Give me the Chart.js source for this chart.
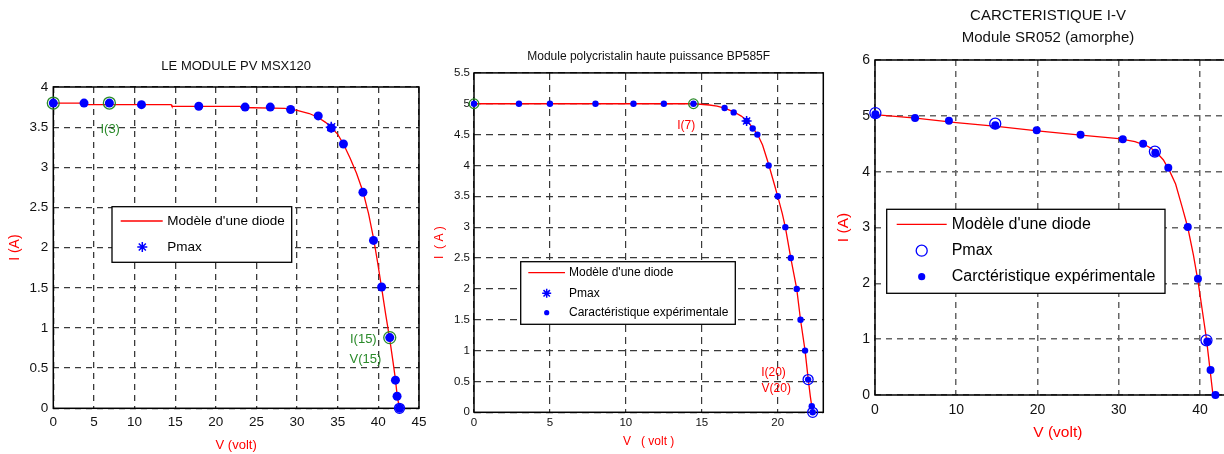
<!DOCTYPE html>
<html>
<head>
<meta charset="utf-8">
<script src="https://cdn.jsdelivr.net/npm/chart.js@4.4.1/dist/chart.umd.min.js"></script>
<style>
  html, body { margin: 0; padding: 0; background: #fff; overflow: hidden; }
  body { width: 1224px; height: 454px; position: relative; }
  canvas { position: absolute; top: 0; }
  #msx { left: 0; }
  #bp { left: 420px; }
  #sr { left: 830px; }
</style>
</head>
<body>
<canvas id="msx" width="440" height="454"></canvas>
<canvas id="bp" width="420" height="454"></canvas>
<canvas id="sr" width="440" height="454"></canvas>
<script>
// ---- MSX120 ----
const msxTitle = 'LE MODULE PV MSX120';
const msxModelV = [0, 3.9, 4.0, 14.5, 14.6, 23.0, 23.1, 28.5, 30.0, 31.5, 32.6, 33.5, 34.2, 35.0, 35.7, 36.5, 37.3, 38.1, 38.8, 39.4, 39.9, 40.4, 40.9, 41.4, 41.8, 42.1, 42.3, 42.5, 42.6];
const msxModelI = [3.8, 3.8, 3.78, 3.78, 3.76, 3.76, 3.745, 3.735, 3.71, 3.67, 3.62, 3.56, 3.5, 3.41, 3.29, 3.12, 2.93, 2.7, 2.42, 2.12, 1.82, 1.5, 1.17, 0.86, 0.58, 0.36, 0.17, 0.05, 0];
const msxExpV = [0, 3.78, 6.9, 10.85, 17.9, 23.6, 26.7, 29.2, 32.6, 34.2, 35.7, 38.1, 39.4, 40.4, 41.4, 42.1, 42.3, 42.6];
const msxExpI = [3.8, 3.8, 3.8, 3.78, 3.76, 3.75, 3.75, 3.72, 3.64, 3.49, 3.29, 2.69, 2.09, 1.51, 0.88, 0.35, 0.15, 0];
const msxPmaxV = [34.2];
const msxPmaxI = [3.5];
const msxMarkV = [0, 6.9, 41.4];
const msxMarkI = [3.8, 3.8, 0.88];
const msxEndV = [42.6];
const msxEndI = [0];
const msxNoteText = ['I(3)', 'I(15)', 'V(15)'];
const msxNoteV = [7.0, 38.15, 38.4];
const msxNoteI = [3.47, 0.86, 0.61];
const msxXTicks = [0, 5, 10, 15, 20, 25, 30, 35, 40, 45];
const msxYTicks = [0, 0.5, 1, 1.5, 2, 2.5, 3, 3.5, 4];
const msxLegend = ["Modèle d'une diode", 'Pmax'];

// ---- BP585F ----
const bpTitle = 'Module polycristalin haute puissance BP585F';
const bpModelV = [0, 14.5, 15.5, 16.0, 16.5, 17.1, 17.6, 18.0, 18.35, 18.7, 19.0, 19.4, 19.7, 20.0, 20.3, 20.5, 20.86, 21.25, 21.5, 21.8, 22.0, 22.15, 22.3];
const bpModelI = [5.0, 5.0, 4.98, 4.96, 4.93, 4.87, 4.8, 4.72, 4.61, 4.49, 4.33, 4.02, 3.76, 3.5, 3.22, 3.0, 2.5, 2.0, 1.5, 1.0, 0.55, 0.25, 0];
const bpExpV = [0, 2.96, 5.0, 8.0, 10.5, 12.5, 14.45, 16.5, 17.1, 17.95, 18.35, 18.66, 19.4, 20.0, 20.5, 20.86, 21.25, 21.5, 21.8, 22.0, 22.24, 22.3];
const bpExpI = [5.0, 5.0, 5.0, 5.0, 5.0, 5.0, 5.0, 4.93, 4.86, 4.72, 4.6, 4.5, 4.0, 3.5, 3.0, 2.5, 2.0, 1.5, 1.0, 0.53, 0.1, 0];
const bpPmaxV = [17.95];
const bpPmaxI = [4.72];
const bpMarkV = [0, 14.45];
const bpMarkI = [5.0, 5.0];
const bpEndV = [22.0, 22.3];
const bpEndI = [0.53, 0];
const bpNoteText = ['I(7)', 'I(20)', 'V(20)'];
const bpNoteV = [13.97, 19.72, 19.9];
const bpNoteI = [4.65, 0.65, 0.39];
const bpXTicks = [0, 5, 10, 15, 20];
const bpYTicks = [0, 0.5, 1, 1.5, 2, 2.5, 3, 3.5, 4, 4.5, 5, 5.5];
const bpLegend = ["Modèle d'une diode", 'Pmax', 'Caractéristique expérimentale'];

// ---- SR052 ----
const srTitle = ['CARCTERISTIQUE I-V', 'Module SR052 (amorphe)'];
const srModelV = [0, 5, 10, 15, 20, 25, 30, 32, 33.5, 34.5, 35.5, 36.3, 37.0, 37.8, 38.5, 39.2, 39.8, 40.3, 40.8, 41.2, 41.6];
const srModelI = [5.02, 4.96, 4.88, 4.81, 4.73, 4.66, 4.59, 4.54, 4.46, 4.37, 4.21, 4.0, 3.78, 3.37, 3.0, 2.5, 2.0, 1.5, 1.0, 0.5, 0];
const srExpV = [0.05, 4.93, 9.1, 14.8, 19.9, 25.3, 30.5, 33.0, 34.5, 36.1, 38.5, 39.75, 40.9, 41.3, 41.9];
const srExpI = [5.03, 4.96, 4.91, 4.83, 4.74, 4.66, 4.58, 4.5, 4.34, 4.07, 3.01, 2.08, 0.96, 0.45, 0];
const srPmaxV = [0.05, 14.8, 34.45, 40.8];
const srPmaxI = [5.05, 4.86, 4.36, 0.98];
const srXTicks = [0, 10, 20, 30, 40];
const srYTicks = [0, 1, 2, 3, 4, 5, 6];
const srLegend = ["Modèle d'une diode", 'Pmax', 'Carctéristique expérimentale'];

const RED = '#ff0000', BLUE = '#0000ff', GREEN = '#2a8a2a';

Chart.defaults.font.family = "'Liberation Sans', Arial, sans-serif";
Chart.defaults.color = '#111';

function pts(vs, is) {
  return vs.map((v, k) => ({ x: v, y: is[k] }));
}

function modelSet(vs, is) {
  return { data: pts(vs, is), showLine: true, borderColor: RED, borderWidth: 1.3,
           pointRadius: 0, tension: 0, clip: false, order: 5 };
}
function dotSet(vs, is, r) {
  return { data: pts(vs, is), showLine: false, pointStyle: 'circle', pointRadius: r,
           backgroundColor: BLUE, borderColor: BLUE, borderWidth: 0, clip: false, order: 2 };
}
function ringSet(vs, is, r, color) {
  return { data: pts(vs, is), showLine: false, pointStyle: 'circle', pointRadius: r,
           backgroundColor: 'rgba(0,0,0,0)', borderColor: color, borderWidth: 1.3, clip: false, order: 1 };
}
function starSet(vs, is, r) {
  return { data: pts(vs, is), showLine: false, pointStyle: 'star', pointRadius: r,
           borderColor: BLUE, borderWidth: 1.5, clip: false, order: 1 };
}

// black box round the plot area
const framePlugin = {
  id: 'frame',
  beforeDatasetsDraw(chart) {
    const { ctx, chartArea: a } = chart;
    ctx.save();
    ctx.strokeStyle = '#000';
    ctx.lineWidth = 1.5;
    ctx.strokeRect(a.left, a.top, a.right - a.left, a.bottom - a.top);
    ctx.restore();
  }
};

// text labels placed at data coordinates
const notesPlugin = {
  id: 'notes',
  afterDatasetsDraw(chart, args, opts) {
    if (!opts.text) return;
    const { ctx, scales: { x, y } } = chart;
    ctx.save();
    ctx.font = opts.font;
    ctx.fillStyle = opts.color;
    ctx.textAlign = 'center';
    ctx.textBaseline = 'middle';
    opts.text.forEach((t, k) => ctx.fillText(t, x.getPixelForValue(opts.v[k]), y.getPixelForValue(opts.i[k])));
    ctx.restore();
  }
};

// matlab-like legend box drawn inside the axes
const boxLegend = {
  id: 'boxLegend',
  afterDraw(chart, args, o) {
    if (!o.labels) return;
    const ctx = chart.ctx;
    const [bx, by, bw, bh] = o.box;
    ctx.save();
    ctx.fillStyle = '#fff';
    ctx.fillRect(bx, by, bw, bh);
    ctx.strokeStyle = '#000';
    ctx.lineWidth = 1.3;
    ctx.strokeRect(bx, by, bw, bh);
    ctx.font = o.font;
    ctx.textBaseline = 'middle';
    o.labels.forEach((txt, k) => {
      const cy = o.rows[k];
      const sym = o.symbols[k];
      const sx = o.symX;
      ctx.beginPath();
      if (sym === 'line') {
        ctx.strokeStyle = RED; ctx.lineWidth = 1.3;
        ctx.moveTo(o.lineX[0], cy); ctx.lineTo(o.lineX[1], cy); ctx.stroke();
      } else if (sym === 'star') {
        const r = o.r;
        ctx.strokeStyle = BLUE; ctx.lineWidth = 1.5;
        ctx.moveTo(sx - r, cy); ctx.lineTo(sx + r, cy);
        ctx.moveTo(sx, cy - r); ctx.lineTo(sx, cy + r);
        const d = r * 0.707;
        ctx.moveTo(sx - d, cy - d); ctx.lineTo(sx + d, cy + d);
        ctx.moveTo(sx - d, cy + d); ctx.lineTo(sx + d, cy - d);
        ctx.stroke();
      } else if (sym === 'dot') {
        ctx.fillStyle = BLUE;
        ctx.arc(sx, cy, o.dotR, 0, Math.PI * 2); ctx.fill();
      } else if (sym === 'ring') {
        ctx.strokeStyle = BLUE; ctx.lineWidth = 1.3;
        ctx.arc(sx, cy, o.r, 0, Math.PI * 2); ctx.stroke();
      }
      ctx.fillStyle = '#000';
      ctx.fillText(txt, o.textX, cy);
    });
    ctx.restore();
  }
};

function axes(o) {
  return {
    x: {
      type: 'linear', min: o.xMin, max: o.xMax,
      afterBuildTicks: s => { s.ticks = o.xTicks.map(v => ({ value: v })); },
      afterFit: s => { s.height = o.xH; },
      grid: { color: o.gridColor, lineWidth: o.gridWidth, drawTicks: false },
      border: { display: false, dash: o.dash },
      ticks: { font: { size: o.tickSize }, color: '#111', padding: o.xPad, maxRotation: 0, autoSkip: false, callback: v => String(v) },
      title: { display: true, text: o.xTitle, color: RED, font: { size: o.xTitleSize }, padding: { top: 0, bottom: o.xTitlePad } }
    },
    y: {
      type: 'linear', min: o.yMin, max: o.yMax,
      afterBuildTicks: s => { s.ticks = o.yTicks.map(v => ({ value: v })); },
      afterFit: s => { s.width = o.yW; },
      grid: { color: o.gridColor, lineWidth: o.gridWidth, drawTicks: false },
      border: { display: false, dash: o.dash },
      ticks: { font: { size: o.tickSize }, color: '#111', padding: o.yPad, autoSkip: false, callback: v => String(v) },
      title: { display: true, text: o.yTitle, color: RED, font: { size: o.yTitleSize }, padding: { top: o.yTitlePad, bottom: 0 } }
    }
  };
}

const plugins = [framePlugin, notesPlugin, boxLegend];

new Chart(document.getElementById('msx'), {
  type: 'scatter',
  data: {
    datasets: [
      starSet(msxPmaxV, msxPmaxI, 5.5),
      ringSet(msxMarkV, msxMarkI, 6, GREEN),
      ringSet(msxEndV, msxEndI, 5, BLUE),
      dotSet(msxExpV, msxExpI, 4.5),
      modelSet(msxModelV, msxModelI)
    ]
  },
  options: {
    responsive: false, animation: false, events: [],
    layout: { padding: { top: 58.2, left: 0, right: 21, bottom: 0 } },
    scales: axes({
      xMin: 0, xMax: 45, yMin: 0, yMax: 4, xTicks: msxXTicks, yTicks: msxYTicks,
      xH: 45.7, yW: 53.3, gridColor: '#3a3a3a', gridWidth: 1.3, dash: [6, 5],
      tickSize: 13.5, xPad: 6.3, yPad: 5,
      xTitle: 'V (volt)', xTitleSize: 13, xTitlePad: 1.2,
      yTitle: 'I (A)', yTitleSize: 14, yTitlePad: 6.6
    }),
    plugins: {
      legend: { display: false },
      tooltip: { enabled: false },
      title: { display: true, text: msxTitle, fullSize: false, color: '#111',
               font: { size: 13, weight: 'normal' }, padding: { top: 0, bottom: 13.2 } },
      notes: { text: msxNoteText, v: msxNoteV, i: msxNoteI, color: GREEN, font: "13px 'Liberation Sans', Arial, sans-serif" },
      boxLegend: {
        labels: msxLegend, symbols: ['line', 'star'],
        box: [112, 206.7, 179.7, 55.6], rows: [221, 247], lineX: [120.7, 162.7],
        symX: 142.3, textX: 167.3, r: 5, dotR: 3, font: "13.5px 'Liberation Sans', Arial, sans-serif"
      }
    }
  },
  plugins
});

new Chart(document.getElementById('bp'), {
  type: 'scatter',
  data: {
    datasets: [
      starSet(bpPmaxV, bpPmaxI, 5),
      ringSet(bpMarkV, bpMarkI, 4.8, GREEN),
      ringSet(bpEndV, bpEndI, 5, BLUE),
      dotSet(bpExpV, bpExpI, 3.2),
      modelSet(bpModelV, bpModelI)
    ]
  },
  options: {
    responsive: false, animation: false, events: [],
    layout: { padding: { top: 49.1, left: 0, right: 16.7, bottom: 0 } },
    scales: axes({
      xMin: 0, xMax: 23, yMin: 0, yMax: 5.5, xTicks: bpXTicks, yTicks: bpYTicks,
      xH: 41.7, yW: 54, gridColor: '#3a3a3a', gridWidth: 1.2, dash: [7, 5],
      tickSize: 11.5, xPad: 4.1, yPad: 4,
      xTitle: 'V   ( volt )', xTitleSize: 12, xTitlePad: 5.1,
      yTitle: 'I  ( A )', yTitleSize: 12, yTitlePad: 12.8
    }),
    plugins: {
      legend: { display: false },
      tooltip: { enabled: false },
      title: { display: true, text: bpTitle, fullSize: false, color: '#111',
               font: { size: 12, weight: 'normal' }, padding: { top: 0, bottom: 9.4 } },
      notes: { text: bpNoteText, v: bpNoteV, i: bpNoteI, color: RED, font: "12px 'Liberation Sans', Arial, sans-serif" },
      boxLegend: {
        labels: bpLegend, symbols: ['line', 'star', 'dot'],
        box: [100.7, 261.7, 214.6, 62.6], rows: [272.7, 293.3, 312.7], lineX: [108.3, 145],
        symX: 126.7, textX: 149, r: 4.5, dotR: 2.6, font: "12px 'Liberation Sans', Arial, sans-serif"
      }
    }
  },
  plugins
});

new Chart(document.getElementById('sr'), {
  type: 'scatter',
  data: {
    datasets: [
      ringSet(srPmaxV, srPmaxI, 5.5, BLUE),
      dotSet(srExpV, srExpI, 4),
      modelSet(srModelV, srModelI)
    ]
  },
  options: {
    responsive: false, animation: false, events: [],
    layout: { padding: { top: 5.1, left: 25.4, right: 29.4, bottom: 0 } },
    scales: axes({
      xMin: 0, xMax: 45, yMin: 0, yMax: 6, xTicks: srXTicks, yTicks: srYTicks,
      xH: 59, yW: 19.6, gridColor: '#666', gridWidth: 1.5, dash: [6, 5],
      tickSize: 14, xPad: 6.6, yPad: 5,
      xTitle: 'V (volt)', xTitleSize: 15.5, xTitlePad: 11.7,
      yTitle: 'I (A)', yTitleSize: 15.5, yTitlePad: -20.7
    }),
    plugins: {
      legend: { display: false },
      tooltip: { enabled: false },
      title: { display: true, text: srTitle, fullSize: true, color: '#111',
               font: { size: 15, weight: 'normal', lineHeight: 1.45 }, padding: { top: 0, bottom: 11.4 } },
      boxLegend: {
        labels: srLegend, symbols: ['line', 'ring', 'dot'],
        box: [56.7, 209.3, 278.3, 84], rows: [224.3, 250.7, 276.7], lineX: [66.7, 116.7],
        symX: 91.7, textX: 121.7, r: 5.5, dotR: 3.6, font: "16px 'Liberation Sans', Arial, sans-serif"
      }
    }
  },
  plugins
});
</script>
</body>
</html>
